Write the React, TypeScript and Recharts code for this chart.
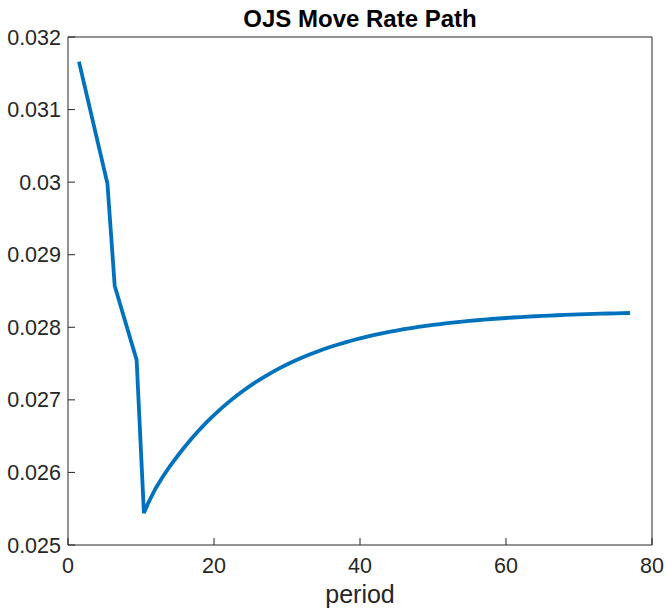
import { LineChart, Line, XAxis, YAxis, Label } from 'recharts'

// kink positions (they sit a little right of whole periods)
const periods = [
  1.5, 5.4, 6.4, 9.4, 10.4, 11, 12, 13, 14, 15, 16, 17, 18, 19, 20, 21, 22, 23,
  24, 25, 26, 27, 28, 29, 30, 31, 32, 33, 34, 35, 36, 37, 38, 39, 40, 41, 42,
  43, 44, 45, 46, 47, 48, 49, 50, 51, 52, 53, 54, 55, 56, 57, 58, 59, 60, 61,
  62, 63, 64, 65, 66, 67, 68, 69, 70, 71, 72, 73, 74, 75, 76, 77,
]

const moveRate = [
  0.03166, 0.02998, 0.02857, 0.02755, 0.02544, 0.025581, 0.02578, 0.025945,
  0.026092, 0.026226, 0.026354, 0.026475, 0.026587, 0.026692, 0.026791,
  0.026883, 0.026969, 0.02705, 0.027126, 0.027196, 0.027263, 0.027324,
  0.027383, 0.027437, 0.027488, 0.027535, 0.02758, 0.027621, 0.02766,
  0.027697, 0.027731, 0.027763, 0.027793, 0.027821, 0.027847, 0.027872,
  0.027895, 0.027916, 0.027936, 0.027955, 0.027973, 0.027989, 0.028004,
  0.028019, 0.028032, 0.028045, 0.028057, 0.028068, 0.028078, 0.028088,
  0.028097, 0.028106, 0.028114, 0.028121, 0.028128, 0.028135, 0.028141,
  0.028147, 0.028152, 0.028157, 0.028162, 0.028166, 0.02817, 0.028174,
  0.028177, 0.028181, 0.028184, 0.028187, 0.02819, 0.028192, 0.028195,
  0.028197,
]

const xTicks = [0, 20, 40, 60, 80]
const yTicks = [0.025, 0.026, 0.027, 0.028, 0.029, 0.03, 0.031, 0.032]

const data = periods.map((p, i) => ({ period: p, rate: moveRate[i] }))

const font = '"Liberation Sans", Arial, Helvetica, sans-serif'
const axisColor = '#262626'
const tickFont = { fontSize: 21.5, fill: axisColor, fontFamily: font }

const fmtY = (v: number) => String(+v.toFixed(3))

export default function App() {
  return (
    <div style={{ position: 'absolute', left: 0, top: 0, width: 666, height: 608, background: '#fff' }}>
      <div
        style={{
          position: 'absolute',
          left: 68,
          width: 584,
          top: 7,
          textAlign: 'center',
          fontFamily: font,
          fontWeight: 'bold',
          fontSize: 24,
          lineHeight: '24px',
          color: '#000',
        }}
      >
        OJS Move Rate Path
      </div>
      <LineChart
        width={666}
        height={608}
        data={data}
        margin={{ top: 36, right: 13, bottom: 0, left: 0 }}
      >
        <XAxis
          dataKey="period"
          type="number"
          domain={[0, 80]}
          ticks={xTicks}
          allowDataOverflow
          height={63}
          stroke={axisColor}
          tickSize={-7}
          tickMargin={20}
          tick={tickFont}
        >
          <Label
            value="period"
            position="insideBottom"
            offset={5}
            style={{ fontSize: 25, fill: axisColor, fontFamily: font }}
          />
        </XAxis>
        {/* top and right axes only close the box, ticks point inward */}
        <XAxis
          xAxisId="top"
          orientation="top"
          type="number"
          domain={[0, 80]}
          ticks={xTicks}
          allowDataOverflow
          height={1}
          stroke={axisColor}
          tickSize={-7}
          tick={false}
        />
        <YAxis
          type="number"
          domain={[0.025, 0.032]}
          ticks={yTicks}
          allowDataOverflow
          width={68}
          stroke={axisColor}
          tickSize={-7}
          tickMargin={14}
          tick={tickFont}
          tickFormatter={fmtY}
        />
        <YAxis
          yAxisId="right"
          orientation="right"
          type="number"
          domain={[0.025, 0.032]}
          ticks={yTicks}
          allowDataOverflow
          width={1}
          stroke={axisColor}
          tickSize={-7}
          tick={false}
        />
        <Line
          dataKey="rate"
          stroke="#0072BD"
          strokeWidth={3.8}
          dot={false}
          isAnimationActive={false}
          type="linear"
        />
      </LineChart>
    </div>
  )
}
